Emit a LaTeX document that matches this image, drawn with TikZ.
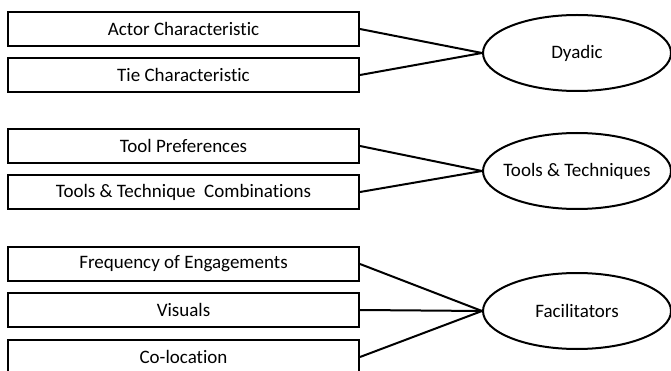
\documentclass[tikz,border=0pt]{standalone}
\usepackage{fontspec}
\setmainfont[Ligatures={NoCommon}]{Carlito}
\usetikzlibrary{shapes.geometric}
\begin{document}
\begin{tikzpicture}[x=1pt,y=-1pt,
  item/.style={draw, line width=2pt, minimum width=351pt, minimum height=34pt, inner sep=0pt, font=\fontsize{19}{22}\selectfont},
  group/.style={draw, ellipse, line width=2pt, minimum width=188pt, minimum height=76pt, inner sep=0pt,
    label={[font=\fontsize{19}{22}\selectfont]center:#1}},
  link/.style={line width=2pt}]
\useasboundingbox (0,0) rectangle (671,371);
\clip (0,0) rectangle (671,371);
% attribute boxes
\node[item] (ac) at (183.5,29) {Actor Characteristic};
\node[item] (tc) at (183.5,75) {Tie Characteristic};
\node[item] (tp) at (183.5,146) {Tool Preferences};
\node[item] (ttc) at (183.5,192) {Tools \& Technique\ \ Combinations};
\node[item] (fe) at (183.5,264) {Frequency of Engagements};
\node[item] (vi) at (183.5,310) {Visuals};
\node[item] (co) at (183.5,357) {Co-location};
% categories
\node[group={Dyadic}] (dy) at (577,53) {};
\node[group={Tools \& Techniques}] (tt) at (577,171) {};
\node[group={Facilitators}] (fa) at (577,311) {};
% connectors
\draw[link] (ac.east) -- (dy.west);
\draw[link] (tc.east) -- (dy.west);
\draw[link] (tp.east) -- (tt.west);
\draw[link] (ttc.east) -- (tt.west);
\draw[link] (fe.east) -- (fa.west);
\draw[link] (vi.east) -- (fa.west);
\draw[link] (co.east) -- (fa.west);
\end{tikzpicture}
\end{document}
